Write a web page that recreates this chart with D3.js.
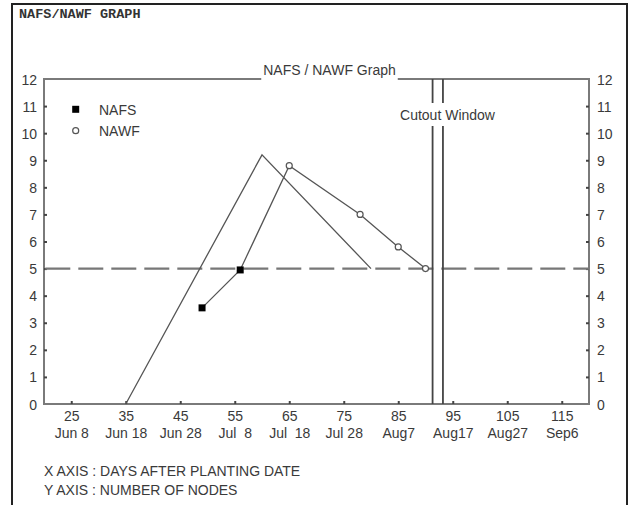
<!DOCTYPE html>
<html>
<head>
<meta charset="utf-8">
<script src="https://cdn.jsdelivr.net/npm/d3@7"></script>
<style>
  html, body { margin: 0; padding: 0; background: #fff; }
  svg { display: block; }
  text { font-family: "Liberation Sans", Arial, sans-serif; }
</style>
</head>
<body>
<svg id="chart" width="629" height="505"></svg>
<script>
// ---- data ----
const xTickValues = [25, 35, 45, 55, 65, 75, 85, 95, 105, 115];
const xDateLabels = ["Jun 8", "Jun 18", "Jun 28", "Jul  8", "Jul  18", "Jul 28", "Aug7", "Aug17", "Aug27", "Sep6"];
const yTickValues = [0, 1, 2, 3, 4, 5, 6, 7, 8, 9, 10, 11, 12];
const nafsDays = [49, 56];
const nafsNodes = [3.55, 4.95];
const nawfDays = [65, 78, 85, 90];
const nawfNodes = [8.8, 7.0, 5.8, 5.0];
const refDays = [35, 60, 80];
const refNodes = [0, 9.2, 5];
const targetNodes = 5;
const cutoutDays = [91.3, 93.2];
const xDomain = [20, 120];
const yDomain = [0, 12];

// ---- layout ----
const svg = d3.select("#chart");
const L = 44, R = 589, T = 79, B = 404;
const x = d3.scaleLinear().domain(xDomain).range([L, R]);
const y = d3.scaleLinear().domain(yDomain).range([B, T]);
const axisColor = "#7a7a7a";
const lineColor = "#555";
const textColor = "#3a3a3a";

// outer frame
svg.append("rect").attr("x", 12).attr("y", 4).attr("width", 615).attr("height", 520)
  .attr("fill", "none").attr("stroke", "#222").attr("stroke-width", 2);

svg.append("text").attr("x", 19).attr("y", 18)
  .attr("font-family", "'Liberation Mono', 'DejaVu Sans Mono', monospace")
  .style("font-family", "'Liberation Mono', 'DejaVu Sans Mono', monospace")
  .attr("font-weight", "bold").attr("font-size", 13.5).attr("fill", "#333")
  .text("NAFS/NAWF GRAPH");

// chart title
const title = svg.append("text").attr("x", 329.5).attr("y", 75)
  .attr("text-anchor", "middle").attr("font-size", 14).attr("fill", textColor)
  .text("NAFS / NAWF Graph");
const tb = title.node().getBBox();

// plot frame (top line broken by title)
const frame = svg.append("g").attr("stroke", axisColor).attr("stroke-width", 2).attr("fill", "none");
frame.append("path").attr("d", `M${tb.x - 2},${T}H${L}V${B}H${R}V${T}H${tb.x + tb.width + 2}`);

// axes via d3 axis generators
const gxB = svg.append("g").attr("transform", `translate(0,${B})`)
  .call(d3.axisBottom(x).tickValues(xTickValues).tickSize(0).tickPadding(0).tickFormat(d => d));
gxB.select(".domain").remove();
gxB.selectAll(".tick text").remove();
gxB.selectAll(".tick").append("line").attr("y1", 0).attr("y2", -3).attr("stroke", "#444").attr("stroke-width", 2);
gxB.selectAll(".tick").append("text").attr("y", 17).attr("text-anchor", "middle")
  .attr("font-size", 14).attr("fill", textColor).text(d => d);
gxB.selectAll(".tick").append("text").attr("y", 34).attr("text-anchor", "middle")
  .attr("font-size", 14).attr("fill", textColor).attr("xml:space", "preserve").style("white-space", "pre")
  .text((d, i) => xDateLabels[i]);

const gyL = svg.append("g").attr("transform", `translate(${L},0)`)
  .call(d3.axisLeft(y).tickValues(yTickValues).tickSize(0));
gyL.select(".domain").remove();
gyL.selectAll(".tick text").remove();
gyL.selectAll(".tick").filter(d => d > 0 && d < 12).append("line").attr("x1", 0).attr("x2", 3).attr("stroke", "#444").attr("stroke-width", 2);
gyL.selectAll(".tick").append("text").attr("x", -7).attr("dy", "0.36em").attr("text-anchor", "end")
  .attr("font-size", 14).attr("fill", textColor).text(d => d);

const gyR = svg.append("g").attr("transform", `translate(${R},0)`)
  .call(d3.axisRight(y).tickValues(yTickValues).tickSize(0));
gyR.select(".domain").remove();
gyR.selectAll(".tick text").remove();
gyR.selectAll(".tick").filter(d => d > 0 && d < 12).append("line").attr("x1", 0).attr("x2", -3).attr("stroke", "#444").attr("stroke-width", 2);
gyR.selectAll(".tick").append("text").attr("x", 8).attr("dy", "0.36em").attr("text-anchor", "start")
  .attr("font-size", 14).attr("fill", textColor).text(d => d);

// target dashed line
svg.append("line").attr("x1", L).attr("x2", R).attr("y1", y(targetNodes)).attr("y2", y(targetNodes))
  .attr("stroke", "#777").attr("stroke-width", 2.2).attr("stroke-dasharray", "25,8").attr("stroke-dashoffset", -1.3);

// cutout window lines
const cutTextY = 115;
cutoutDays.forEach(d => {
  svg.append("line").attr("x1", x(d)).attr("x2", x(d)).attr("y1", T).attr("y2", 103)
    .attr("stroke", "#444").attr("stroke-width", 1.8);
  svg.append("line").attr("x1", x(d)).attr("x2", x(d)).attr("y1", 126).attr("y2", B)
    .attr("stroke", "#444").attr("stroke-width", 1.8);
});
svg.append("text").attr("x", 447.5).attr("y", cutTextY).attr("dy", "0.36em").attr("text-anchor", "middle")
  .attr("font-size", 14).attr("fill", textColor).text("Cutout Window");

// reference line
const line = d3.line().x(d => x(d[0])).y(d => y(d[1]));
svg.append("path").datum(refDays.map((d, i) => [d, refNodes[i]]))
  .attr("d", line).attr("fill", "none").attr("stroke", lineColor).attr("stroke-width", 1.3);

// connected NAFS + NAWF line
const allPts = nafsDays.map((d, i) => [d, nafsNodes[i]]).concat(nawfDays.map((d, i) => [d, nawfNodes[i]]));
svg.append("path").datum(allPts).attr("d", line).attr("fill", "none")
  .attr("stroke", lineColor).attr("stroke-width", 1.3);

// NAFS markers
svg.selectAll(".nafs").data(nafsDays).enter().append("rect")
  .attr("x", (d) => x(d) - 3.5).attr("y", (d, i) => y(nafsNodes[i]) - 3.5)
  .attr("width", 7).attr("height", 7).attr("fill", "#000");

// NAWF markers
svg.selectAll(".nawf").data(nawfDays).enter().append("circle")
  .attr("cx", d => x(d)).attr("cy", (d, i) => y(nawfNodes[i])).attr("r", 3)
  .attr("fill", "#fff").attr("stroke", "#555").attr("stroke-width", 1.2);

// legend
svg.append("rect").attr("x", 72.2).attr("y", 105.8).attr("width", 7).attr("height", 7).attr("fill", "#000");
svg.append("circle").attr("cx", 75.7).attr("cy", 130.7).attr("r", 3).attr("fill", "#fff").attr("stroke", "#555").attr("stroke-width", 1.2);
svg.append("text").attr("x", 99).attr("y", 109.5).attr("dy", "0.36em").attr("font-size", 14).attr("fill", textColor).text("NAFS");
svg.append("text").attr("x", 99).attr("y", 130.5).attr("dy", "0.36em").attr("font-size", 14).attr("fill", textColor).text("NAWF");

// footnotes
svg.append("text").attr("x", 44).attr("y", 471).attr("dy", "0.36em").attr("font-size", 14).attr("fill", textColor)
  .text("X AXIS : DAYS AFTER PLANTING DATE");
svg.append("text").attr("x", 44).attr("y", 489.5).attr("dy", "0.36em").attr("font-size", 14).attr("fill", textColor)
  .text("Y AXIS : NUMBER OF NODES");
</script>
</body>
</html>
